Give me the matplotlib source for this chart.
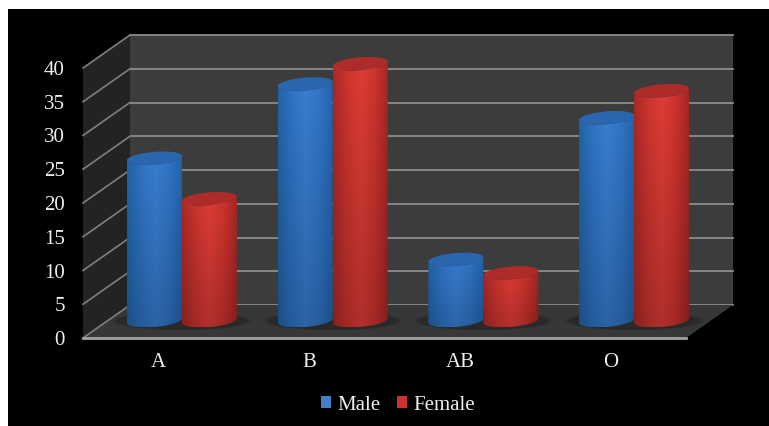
"""Blood group chart, male and female, drawn as a fake 3D cylinder bar chart."""
import numpy as np
import matplotlib
matplotlib.use('Agg')
import matplotlib.pyplot as plt
from matplotlib.colors import LinearSegmentedColormap
from matplotlib.patches import Ellipse, PathPatch, Patch, Polygon
from matplotlib.path import Path

GROUPS = ['A', 'B', 'AB', 'O']
MALE = [25, 36, 10, 31]
FEMALE = [19, 39, 8, 35]
Y_TICKS = [0, 5, 10, 15, 20, 25, 30, 35, 40]

W, H = 769, 426
BAR_W = 0.365
TILT = 1.8  # value units per category unit
ELL_H = 0.95

plt.rcParams['font.family'] = ['Liberation Serif', 'DejaVu Serif']

BLUE = LinearSegmentedColormap.from_list('blue', ['#21609f', '#2c6fbd', '#3679c9', '#2f70bd', '#225fa6'])
RED = LinearSegmentedColormap.from_list('red', ['#a32724', '#c5322d', '#d63a34', '#c5312c', '#9c2422'])


def make_axes(fig, left, right, top, bottom, zorder):
    # positions given in pixels from the top left
    ax = fig.add_axes([left / W, 1 - bottom / H, (right - left) / W, (bottom - top) / H], zorder=zorder)
    ax.set_xlim(0, 4)
    ax.set_ylim(0, 40)
    ax.patch.set_visible(False)
    ax.set_xticks([])
    ax.set_yticks([])
    for spine in ax.spines.values():
        spine.set_visible(False)
    return ax


def draw_cylinder(ax, x_c, value, cmap, top_color):
    half = BAR_W / 2
    t = np.linspace(np.pi, 2 * np.pi, 60)
    x_low = x_c + half * np.cos(t)
    y_low = ELL_H + ELL_H * np.sin(t) + TILT * (x_low - x_c)
    x_up = x_c + half * np.cos(t[::-1])
    y_up = value + ELL_H * np.sin(t[::-1]) + TILT * (x_up - x_c)
    body = Path(np.column_stack([np.r_[x_low, x_up], np.r_[y_low, y_up]]))
    # horizontal roll-off, a little darker toward the floor
    shade = cmap(np.linspace(0, 1, 128))[None, :, :] * np.ones((40, 1, 1))
    shade[:, :, :3] *= np.linspace(1.05, 0.82, 40)[:, None, None]
    img = ax.imshow(np.clip(shade, 0, 1), extent=(x_c - half, x_c + half, -1, value + 2),
                    aspect='auto', zorder=3)
    patch = PathPatch(body, fc='none', ec='none', transform=ax.transData, zorder=3)
    ax.add_patch(patch)
    img.set_clip_path(patch)
    t = np.linspace(0, 2 * np.pi, 80)
    x_top = x_c + half * np.cos(t)
    y_top = value + ELL_H * np.sin(t) + TILT * (x_top - x_c)
    ax.fill(x_top, y_top, color=top_color, lw=0, zorder=4)


fig = plt.figure(figsize=(W / 100, H / 100), dpi=100, facecolor='#ffffff')

# black slide on white page
fig.add_artist(plt.Rectangle((8 / W, 0), 1 - 8 / W, 1 - 9 / H, fc='#000000', ec='none', zorder=-5))

ax_back = make_axes(fig, 130, 733, 35, 305, 0)
ax_front = make_axes(fig, 83, 686, 68, 338, 2)
ax_bars = make_axes(fig, 106.5, 709.5, 57, 327, 3)

# Walls and floor
ax_back.add_patch(plt.Rectangle((0, 0), 4, 40, fc='#3c3c3c', ec='none', zorder=0))
fig.add_artist(Polygon([(83 / W, 1 - 338 / H), (130 / W, 1 - 305 / H),
                        (130 / W, 1 - 35 / H), (83 / W, 1 - 68 / H)],
                       fc='#232323', ec='none', zorder=0.5))
fig.add_artist(Polygon([(83 / W, 1 - 338 / H), (130 / W, 1 - 305 / H),
                        (733 / W, 1 - 305 / H), (686 / W, 1 - 338 / H)],
                       fc='#373737', ec='none', zorder=0.5))

# Grid on the back wall and the side wall
for val in Y_TICKS:
    ax_back.plot([0, 4], [val, val], color='#8c8c8c', lw=1.3, zorder=1, clip_on=False)
    y_b = 1 - (305 - val * 270 / 40) / H
    y_f = 1 - (338 - val * 270 / 40) / H
    fig.add_artist(plt.Line2D([83 / W, 130 / W], [y_f, y_b], color='#808080', lw=1.2, zorder=0.6))
ax_front.plot([0, 4], [0, 0], color='#a0a0a0', lw=2, clip_on=False, zorder=2)

ax_front.set_yticks(Y_TICKS)
ax_front.set_xticks(np.arange(4) + 0.5, GROUPS)
ax_front.tick_params(axis='both', length=0, colors='#eeeeee', labelsize=15)
ax_front.tick_params(axis='y', pad=13)
ax_front.tick_params(axis='x', pad=11)

# Bars
centers = np.arange(4) + 0.5
for x_c, male, female in zip(centers, MALE, FEMALE):
    for grow, alpha in zip([1.08, 1.03, 1.0], [0.2, 0.25, 0.3]):
        ax_bars.add_patch(Ellipse((x_c, 0.9), 0.86 * grow, 2.6 * grow, fc='#222222', ec='none',
                                  alpha=alpha, zorder=2, clip_on=False))
    draw_cylinder(ax_bars, x_c - BAR_W / 2, male, BLUE, '#2a66ad')
    draw_cylinder(ax_bars, x_c + BAR_W / 2, female, RED, '#ad2b28')
ax_bars.set_xlim(0, 4)
ax_bars.set_ylim(0, 40)

handles = [Patch(fc='#3f7fcc', label='Male'), Patch(fc='#c9322e', label='Female')]
fig.legend(handles=handles, loc='center', bbox_to_anchor=(398 / W, 1 - 405 / H), ncol=2,
           frameon=False, fontsize=15, labelcolor='#eeeeee', handlelength=0.48, handleheight=0.48,
           handletextpad=0.3, columnspacing=0.8)

fig.savefig('out.png', dpi=100, facecolor=fig.get_facecolor())
